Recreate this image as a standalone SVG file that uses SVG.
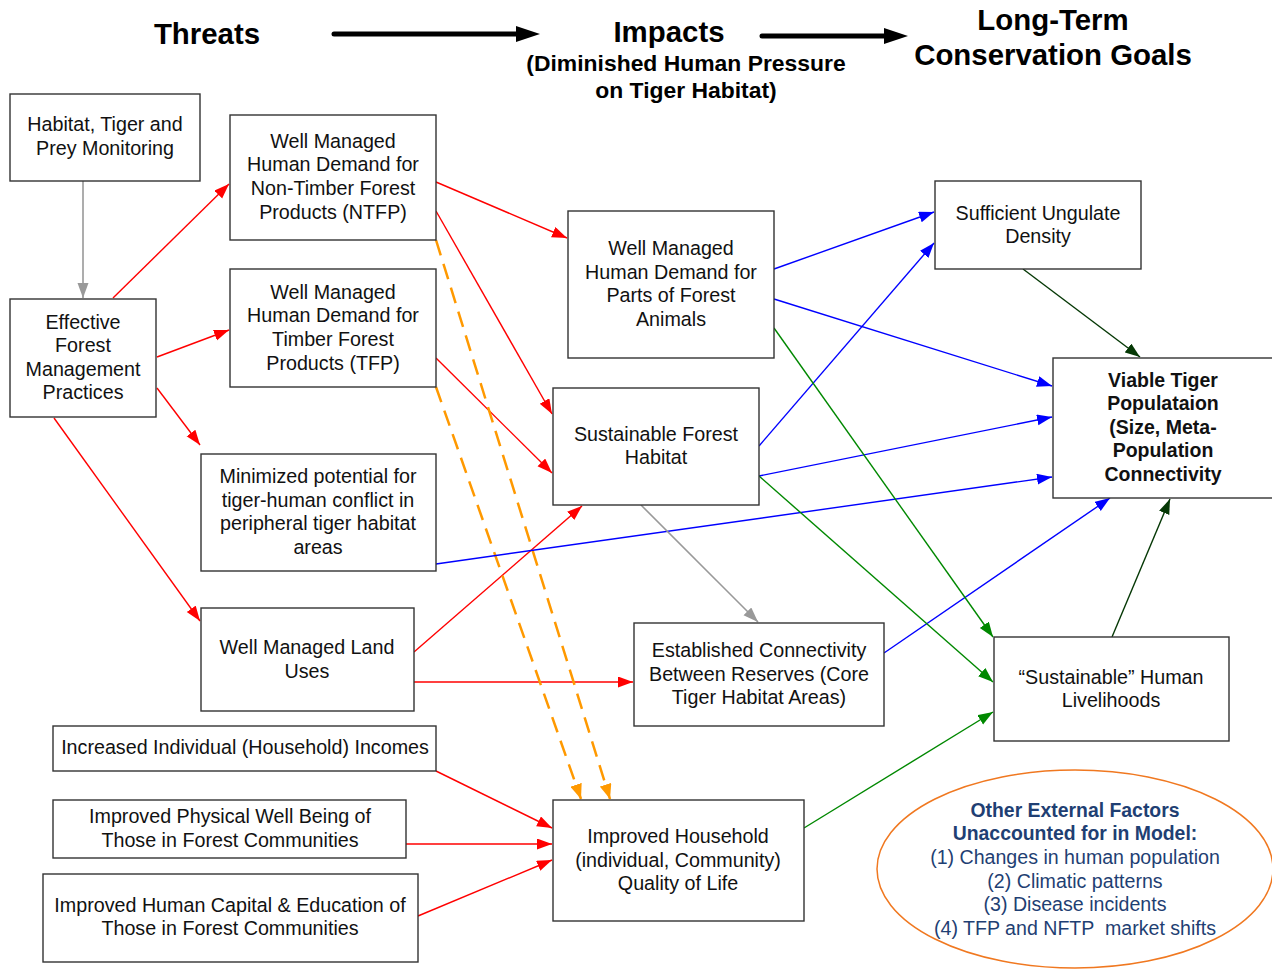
<svg xmlns="http://www.w3.org/2000/svg" width="1272" height="970" viewBox="0 0 1272 970">
<style>
.box{fill:#fff;stroke:#333;stroke-width:1.4}
.t{font-family:"Liberation Sans",Arial,sans-serif;font-size:19.7px;fill:#111;text-anchor:middle}
.tb{font-family:"Liberation Sans",Arial,sans-serif;font-size:19.5px;font-weight:bold;fill:#111;text-anchor:middle}
.h1{font-family:"Liberation Sans",Arial,sans-serif;font-size:29.4px;font-weight:bold;fill:#000;text-anchor:middle}
.h2{font-family:"Liberation Sans",Arial,sans-serif;font-size:22.9px;font-weight:bold;fill:#000;text-anchor:middle}
.e{font-family:"Liberation Sans",Arial,sans-serif;font-size:19.6px;fill:#1f3f73;text-anchor:middle}
.eb{font-family:"Liberation Sans",Arial,sans-serif;font-size:19.4px;font-weight:bold;fill:#1f3f73;text-anchor:middle}
.r{stroke:#f00;stroke-width:1.4;fill:none;marker-end:url(#mr)}
.b{stroke:#00f;stroke-width:1.4;fill:none;marker-end:url(#mb)}
.g{stroke:#080;stroke-width:1.4;fill:none;marker-end:url(#mg)}
.dg{stroke:#053805;stroke-width:1.4;fill:none;marker-end:url(#mdg)}
.gr{stroke:#999;stroke-width:1.6;fill:none;marker-end:url(#mgr)}
.o{stroke:#f90;stroke-width:2.5;fill:none;stroke-dasharray:16,9;marker-end:url(#mo)}
.k{stroke:#000;stroke-width:5;fill:none;stroke-linecap:round}
</style>
<defs>
<marker id="mr" markerUnits="userSpaceOnUse" markerWidth="16" markerHeight="12" refX="15" refY="5.5" orient="auto"><path d="M0,0 L15,5.5 L0,11 z" fill="#f00"/></marker>
<marker id="mb" markerUnits="userSpaceOnUse" markerWidth="16" markerHeight="12" refX="15" refY="5.5" orient="auto"><path d="M0,0 L15,5.5 L0,11 z" fill="#00f"/></marker>
<marker id="mg" markerUnits="userSpaceOnUse" markerWidth="16" markerHeight="12" refX="15" refY="5.5" orient="auto"><path d="M0,0 L15,5.5 L0,11 z" fill="#080"/></marker>
<marker id="mdg" markerUnits="userSpaceOnUse" markerWidth="16" markerHeight="12" refX="15" refY="5.5" orient="auto"><path d="M0,0 L15,5.5 L0,11 z" fill="#053805"/></marker>
<marker id="mgr" markerUnits="userSpaceOnUse" markerWidth="16" markerHeight="12" refX="15" refY="5.5" orient="auto"><path d="M0,0 L15,5.5 L0,11 z" fill="#999"/></marker>
<marker id="mo" markerUnits="userSpaceOnUse" markerWidth="16" markerHeight="12" refX="15" refY="6" orient="auto"><path d="M0,0 L15,6 L0,12 z" fill="#f90"/></marker>
</defs>
<rect width="1272" height="970" fill="#fff"/>

<g id="header">
<text class="h1" x="207" y="44">Threats</text>
<line class="k" x1="334" y1="34" x2="518" y2="34"/>
<path d="M516,26 L540,34 L516,42 z" fill="#000"/>
<text class="h1" x="669" y="42">Impacts</text>
<text class="h2" x="686" y="71">(Diminished Human Pressure</text>
<text class="h2" x="686" y="98">on Tiger Habitat)</text>
<line class="k" x1="762" y1="36" x2="886" y2="36"/>
<path d="M884,28 L908,36 L884,44 z" fill="#000"/>
<text class="h1" x="1053" y="30">Long-Term</text>
<text class="h1" x="1053" y="65">Conservation Goals</text>
</g>

<g id="connectors">
<line class="gr" x1="83" y1="181" x2="83" y2="298"/>
<line class="r" x1="113" y1="298" x2="229" y2="184"/>
<line class="r" x1="157" y1="357" x2="229" y2="330"/>
<line class="r" x1="157" y1="388" x2="200" y2="445"/>
<line class="r" x1="54" y1="418" x2="200" y2="621"/>
<line class="r" x1="436" y1="182" x2="567" y2="238"/>
<line class="r" x1="436" y1="211" x2="552" y2="414"/>
<line class="r" x1="436" y1="358" x2="552" y2="473"/>
<line class="r" x1="414" y1="652" x2="582" y2="506"/>
<line class="r" x1="414" y1="682" x2="633" y2="682"/>
<line class="o" x1="436" y1="240" x2="610" y2="799"/>
<line class="o" x1="436" y1="387" x2="581" y2="799"/>
<line class="r" x1="436" y1="771" x2="552" y2="828"/>
<line class="r" x1="406" y1="844" x2="552" y2="844"/>
<line class="r" x1="418" y1="916" x2="552" y2="860"/>
<line class="b" x1="774" y1="269" x2="934" y2="212"/>
<line class="b" x1="774" y1="299" x2="1052" y2="386"/>
<line class="b" x1="759" y1="446" x2="934" y2="243"/>
<line class="b" x1="759" y1="476" x2="1052" y2="417"/>
<line class="b" x1="436" y1="564" x2="1052" y2="477"/>
<line class="b" x1="884" y1="653" x2="1110" y2="498"/>
<line class="dg" x1="1023" y1="269" x2="1140" y2="357"/>
<line class="dg" x1="1112" y1="637" x2="1170" y2="499"/>
<line class="g" x1="774" y1="328" x2="993" y2="637"/>
<line class="g" x1="759" y1="476" x2="993" y2="682"/>
<line class="g" x1="804" y1="828" x2="993" y2="712"/>
<line class="gr" x1="641" y1="505" x2="758" y2="622"/>
</g>

<g id="n-monitoring"><rect class="box" x="10" y="94" width="190" height="87"/>
<text class="t" x="105" y="131">Habitat, Tiger and</text><text class="t" x="105" y="155">Prey Monitoring</text></g>

<g id="n-efmp"><rect class="box" x="10" y="299" width="146" height="118"/>
<text class="t" x="83" y="329">Effective</text><text class="t" x="83" y="352">Forest</text><text class="t" x="83" y="376">Management</text><text class="t" x="83" y="399">Practices</text></g>

<g id="n-ntfp"><rect class="box" x="230" y="115" width="206" height="125"/>
<text class="t" x="333" y="148">Well Managed</text><text class="t" x="333" y="171">Human Demand for</text><text class="t" x="333" y="195">Non-Timber Forest</text><text class="t" x="333" y="219">Products (NTFP)</text></g>

<g id="n-tfp"><rect class="box" x="230" y="269" width="206" height="118"/>
<text class="t" x="333" y="299">Well Managed</text><text class="t" x="333" y="322">Human Demand for</text><text class="t" x="333" y="346">Timber Forest</text><text class="t" x="333" y="370">Products (TFP)</text></g>

<g id="n-conflict"><rect class="box" x="201" y="454" width="235" height="117"/>
<text class="t" x="318" y="483">Minimized potential for</text><text class="t" x="318" y="507">tiger-human conflict in</text><text class="t" x="318" y="530">peripheral tiger habitat</text><text class="t" x="318" y="554">areas</text></g>

<g id="n-landuse"><rect class="box" x="201" y="608" width="213" height="103"/>
<text class="t" x="307" y="654">Well Managed Land</text><text class="t" x="307" y="678">Uses</text></g>

<g id="n-incomes"><rect class="box" x="53" y="726" width="383" height="45"/>
<text class="t" x="245" y="754">Increased Individual (Household) Incomes</text></g>

<g id="n-physical"><rect class="box" x="53" y="800" width="353" height="58"/>
<text class="t" x="230" y="823">Improved Physical Well Being of</text><text class="t" x="230" y="847">Those in Forest Communities</text></g>

<g id="n-capital"><rect class="box" x="43" y="874" width="375" height="88"/>
<text class="t" x="230" y="912">Improved Human Capital &amp; Education of</text><text class="t" x="230" y="935">Those in Forest Communities</text></g>

<g id="n-animals"><rect class="box" x="568" y="211" width="206" height="147"/>
<text class="t" x="671" y="255">Well Managed</text><text class="t" x="671" y="279">Human Demand for</text><text class="t" x="671" y="302">Parts of Forest</text><text class="t" x="671" y="326">Animals</text></g>

<g id="n-habitat"><rect class="box" x="553" y="388" width="206" height="117"/>
<text class="t" x="656" y="441">Sustainable Forest</text><text class="t" x="656" y="464">Habitat</text></g>

<g id="n-connectivity"><rect class="box" x="634" y="623" width="250" height="103"/>
<text class="t" x="759" y="657">Established Connectivity</text><text class="t" x="759" y="681">Between Reserves (Core</text><text class="t" x="759" y="704">Tiger Habitat Areas)</text></g>

<g id="n-quality"><rect class="box" x="553" y="800" width="251" height="121"/>
<text class="t" x="678" y="843">Improved Household</text><text class="t" x="678" y="867">(individual, Community)</text><text class="t" x="678" y="890">Quality of Life</text></g>

<g id="n-ungulate"><rect class="box" x="935" y="181" width="206" height="88"/>
<text class="t" x="1038" y="220">Sufficient Ungulate</text><text class="t" x="1038" y="243">Density</text></g>

<g id="n-viable"><rect class="box" x="1053" y="358" width="225" height="140"/>
<text class="tb" x="1163" y="387">Viable Tiger</text><text class="tb" x="1163" y="410">Populataion</text><text class="tb" x="1163" y="434">(Size, Meta-</text><text class="tb" x="1163" y="457">Population</text><text class="tb" x="1163" y="481">Connectivity</text></g>

<g id="n-livelihoods"><rect class="box" x="994" y="637" width="235" height="104"/>
<text class="t" x="1111" y="684">“Sustainable” Human</text><text class="t" x="1111" y="707">Livelihoods</text></g>

<g id="n-external"><ellipse cx="1075" cy="869" rx="198" ry="99" fill="#fff" stroke="#f07820" stroke-width="1.5"/>
<text class="eb" x="1075" y="817">Other External Factors</text><text class="eb" x="1075" y="840">Unaccounted for in Model:</text>
<text class="e" x="1075" y="864">(1) Changes in human population</text><text class="e" x="1075" y="888">(2) Climatic patterns</text><text class="e" x="1075" y="911">(3) Disease incidents</text><text class="e" x="1075" y="935" xml:space="preserve">(4) TFP and NFTP  market shifts</text></g>
</svg>
